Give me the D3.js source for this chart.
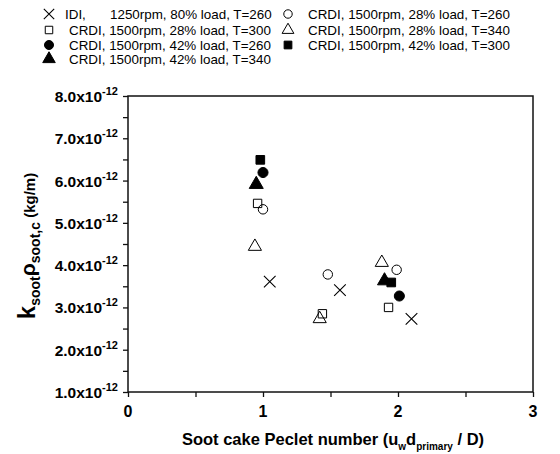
<!DOCTYPE html>
<html>
<head>
<meta charset="utf-8">
<script src="https://cdn.jsdelivr.net/npm/d3@7"></script>
<style>
  body { margin: 0; background: #fff; }
  text { font-family: "Liberation Sans", Arial, sans-serif; }
</style>
</head>
<body>
<div id="canvas"></div>
<script>
"use strict"

// series data (x = Peclet number, y in units of 1e-12 kg/m)
let seriesNames = [
    "IDI,     1250rpm, 80% load, T=260",
    "CRDI, 1500rpm, 28% load, T=260",
    "CRDI, 1500rpm, 28% load, T=300",
    "CRDI, 1500rpm, 28% load, T=340",
    "CRDI, 1500rpm, 42% load, T=260",
    "CRDI, 1500rpm, 42% load, T=300",
    "CRDI, 1500rpm, 42% load, T=340"
];
let seriesSymbols = ["cross", "circleOpen", "squareOpen", "triangleOpen", "circle", "square", "triangle"];

let idi1250 = [[1.05, 3.61], [1.57, 3.41], [2.10, 2.73]];
let crdi28T260 = [[1.00, 5.32], [1.48, 3.78], [1.99, 3.89]];
let crdi28T300 = [[0.96, 5.46], [1.44, 2.85], [1.93, 3.00]];
let crdi28T340 = [[0.94, 4.44], [1.42, 2.73], [1.88, 4.06]];
let crdi42T260 = [[1.00, 6.19], [2.01, 3.27]];
let crdi42T300 = [[0.98, 6.49], [1.95, 3.59]];
let crdi42T340 = [[0.95, 5.91], [1.90, 3.63]];
let allSeries = [idi1250, crdi28T260, crdi28T300, crdi28T340, crdi42T260, crdi42T300, crdi42T340];

let xTicks = [0, 1, 2, 3];
let yTicks = [1, 2, 3, 4, 5, 6, 7, 8];

let drawing = d3.select("#canvas")
    .append("svg")
    .attr("width", 560)
    .attr("height", 454);

let x = d3.scaleLinear().domain([0, 3]).range([128, 533]);
let y = d3.scaleLinear().domain([1, 8]).range([392, 96]);

// frame
drawing.append("rect")
    .attr("x", x(0))
    .attr("y", y(8))
    .attr("width", x(3) - x(0))
    .attr("height", y(1) - y(8))
    .attr("fill", "none")
    .attr("stroke", "#111")
    .attr("stroke-width", 1.5);

// bottom axis, ticks outward
let xAxis = drawing.append("g")
    .attr("transform", "translate(0," + y(1) + ")")
    .call(d3.axisBottom(x).tickValues(d3.range(0, 3.01, 0.5)).tickSize(5).tickFormat(""));
xAxis.select(".domain").remove();
xAxis.selectAll("line").attr("stroke", "#111").attr("stroke-width", 1.3);

drawing.selectAll(".xlab")
    .data(xTicks)
    .enter().append("text")
    .attr("class", "xlab")
    .attr("x", d => x(d))
    .attr("y", 417)
    .attr("text-anchor", "middle")
    .attr("font-size", 16)
    .attr("font-weight", "bold")
    .text(d => d);

// left axis, ticks outward
let yAxis = drawing.append("g")
    .attr("transform", "translate(" + x(0) + ",0)")
    .call(d3.axisLeft(y).tickValues(d3.range(1, 8.01, 0.5)).tickSize(5).tickFormat(""));
yAxis.select(".domain").remove();
yAxis.selectAll("line").attr("stroke", "#111").attr("stroke-width", 1.3);

let ylab = drawing.selectAll(".ylab")
    .data(yTicks)
    .enter().append("text")
    .attr("class", "ylab")
    .attr("x", 118)
    .attr("y", d => y(d) + 6)
    .attr("text-anchor", "end")
    .attr("font-size", 15.5)
    .attr("font-weight", "bold");
ylab.append("tspan").text(d => d.toFixed(1) + "x10");
ylab.append("tspan").attr("font-size", 11).attr("dy", -7).text("-12");

// axis titles
let xTitle = drawing.append("text")
    .attr("x", 333)
    .attr("y", 445)
    .attr("text-anchor", "middle")
    .attr("font-size", 16.5)
    .attr("font-weight", "bold");
xTitle.append("tspan").text("Soot cake Peclet number (u");
xTitle.append("tspan").attr("font-size", 10).attr("dy", 5).text("w");
xTitle.append("tspan").attr("dy", -5).text("d");
xTitle.append("tspan").attr("font-size", 10).attr("dy", 5).text("primary");
xTitle.append("tspan").attr("dy", -5).text(" / D)");

let yTitle = drawing.append("text")
    .attr("transform", "translate(35,246) rotate(-90)")
    .attr("text-anchor", "middle")
    .attr("font-weight", "bold");
yTitle.append("tspan").attr("font-size", 24).text("k");
yTitle.append("tspan").attr("font-size", 14).attr("dy", 5).text("soot");
yTitle.append("tspan").attr("font-size", 21).attr("dy", -5).text("ρ");
yTitle.append("tspan").attr("font-size", 14).attr("dy", 5).text("soot,c");
yTitle.append("tspan").attr("font-size", 15).attr("dy", -5).text("  (kg/m)");

// markers
let symbolTypes = {
    cross: d3.symbolTimes, circleOpen: d3.symbolCircle, squareOpen: d3.symbolSquare,
    triangleOpen: d3.symbolTriangle, circle: d3.symbolCircle, square: d3.symbolSquare,
    triangle: d3.symbolTriangle
};
let symbolSizes = {
    cross: 90, circleOpen: 70, squareOpen: 70, triangleOpen: 75,
    circle: 80, square: 75, triangle: 85
};

function drawMarker(g, kind, scale) {
    let filled = (kind === "circle" || kind === "square" || kind === "triangle");
    g.append("path")
        .attr("d", d3.symbol().type(symbolTypes[kind]).size(symbolSizes[kind] * scale))
        .attr("fill", filled ? "#000" : "none")
        .attr("stroke", "#000")
        .attr("stroke-width", kind === "cross" ? 1.1 : 1);
}

allSeries.forEach(function (pts, i) {
    drawing.append("g").selectAll("g")
        .data(pts)
        .enter().append("g")
        .attr("transform", d => "translate(" + x(d[0]) + "," + y(d[1]) + ")")
        .each(function () { drawMarker(d3.select(this), seriesSymbols[i], 1); });
});

// legend
let legendPos = [[49, 14], [288, 14], [49, 30], [288, 30], [49, 45], [288, 45], [49, 59]];
legendPos.forEach(function (p, i) {
    let g = drawing.append("g").attr("transform", "translate(" + p[0] + "," + p[1] + ")");
    drawMarker(g, seriesSymbols[i], 0.8);
    let t = g.append("text")
        .attr("x", 20)
        .attr("y", 4.5)
        .attr("font-size", 13.4)
        .style("white-space", "pre");
    if (i === 0) {
        t.attr("x", 16);
        t.append("tspan").text("IDI,");
        t.append("tspan").attr("x", 61).text("1250rpm, 80% load, T=260");
    } else {
        t.text(seriesNames[i]);
    }
});
</script>
</body>
</html>
